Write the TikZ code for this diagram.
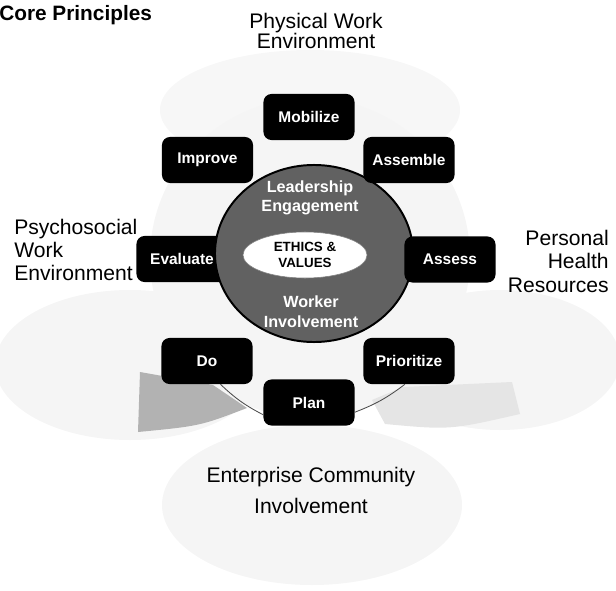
\documentclass[tikz,border=0pt]{standalone}
\usepackage{fontspec}
\setmainfont{Liberation Sans}
\usetikzlibrary{shapes.geometric}
\tikzset{
  stage/.style={fill=black, text=white, rounded corners=2mm, minimum width=2.275cm, minimum height=1.15cm, inner sep=2pt, font=\fontsize{11}{13}\selectfont\bfseries},
  area/.style={font=\fontsize{15}{#1}\selectfont},
  area/.default=17,
  ringtxt/.style={text=white, align=center, font=\fontsize{11.5}{14}\selectfont\bfseries},
  link/.style={draw=black!70, line width=0.6pt},
}

\begin{document}
\begin{tikzpicture}[x=0.025cm, y=-0.025cm]
  \useasboundingbox (0,0) rectangle (616,590);
  % faint lobes of the four surroundings
  \fill[black!3] (310,110) ellipse [x radius=150, y radius=60];
  \fill[black!4] (130,365) ellipse [x radius=135, y radius=75];
  \fill[black!4] (500,360) ellipse [x radius=120, y radius=70];
  \fill[black!4] (312,505) ellipse [x radius=150, y radius=80];
  \fill[black!4] (310,258) circle [radius=160];
  % shaded bands under the lower boxes
  \fill[black!30] (140,372) -- (213,385) -- (247,408) .. controls (200,426) .. (138,432) -- cycle;
  \fill[black!10] (372,400) -- (403,387) -- (512,382) -- (520,414) .. controls (450,430) .. (385,424) -- cycle;

  \node[stage] (evaluate) at (182,259) {Evaluate};

  % the ring and its core
  \node[ellipse, draw=black, line width=1.4pt, fill=black!62, minimum width=4.95cm, minimum height=4.425cm] (ring) at (314,253.5) {};
  \node[ellipse, draw=black!50, fill=white, minimum width=3.1cm, minimum height=1.15cm, align=center, inner sep=0pt, font=\fontsize{9.5}{11}\selectfont\bfseries] (core) at (305,255) {ETHICS \&\\VALUES};
  \node[ringtxt] (lead) at (310,198) {Leadership\\Engagement};
  \node[ringtxt] (worker) at (311,312) {Worker\\Involvement};

  \node[stage] (mobilize) at (309,117) {Mobilize};
  \node[stage] (assemble) at (409,160) {Assemble};
  \node[stage] (assess) at (450,259.5) {Assess};
  \node[stage] (prioritize) at (409,361) {Prioritize};
  \node[stage] (plan) at (309,402.5) {Plan};
  \node[stage] (do) at (207,361) {Do};
  \node[stage] (improve) at (207.5,160) {Improve};

  \draw[link] (do.-60) to[bend right=8] (plan.195);
  \draw[link] (plan.-12) to[bend right=8] (prioritize.-100);

  % surrounding labels
  \node[anchor=north west, font=\fontsize{14.8}{17}\selectfont\bfseries, inner sep=0pt] (title) at (-1,5) {Core Principles};
  \node[area=14.5, align=center, inner sep=0pt] (physical) at (316,31) {Physical Work\\Environment};
  \node[area=16.5, align=left, anchor=west, inner sep=0pt] (psycho) at (14,250) {Psychosocial\\Work\\Environment};
  \node[area=16.7, align=right, anchor=east, inner sep=0pt] (personal) at (609,261) {Personal\\Health\\Resources};
  \node[area=22, align=center, inner sep=0pt] (enterprise) at (311,490) {Enterprise Community\\Involvement};
\end{tikzpicture}
\end{document}
